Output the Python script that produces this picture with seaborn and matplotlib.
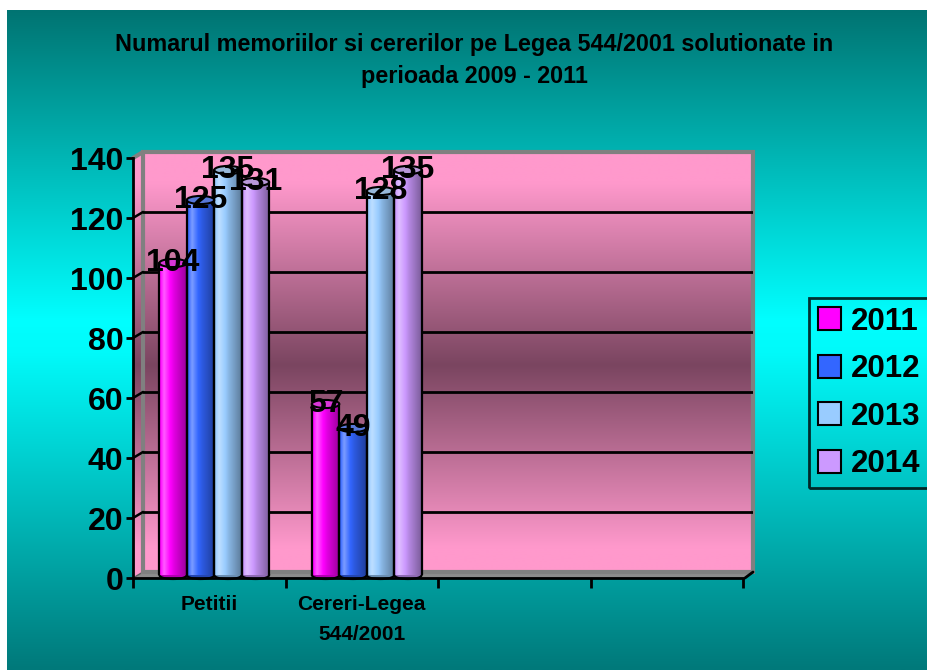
import numpy as np
import pandas as pd
import matplotlib
matplotlib.use("Agg")
import matplotlib.pyplot as plt
import seaborn as sns
from matplotlib.patches import Polygon, Ellipse, Rectangle, Patch
from matplotlib.colors import LinearSegmentedColormap

# ---- data ----
categories = ["Petitii", "Cereri-Legea\n544/2001"]
years = ["2011", "2012", "2013", "2014"]
vals_2011 = [104, 57]
vals_2012 = [125, 49]
vals_2013 = [135, 128]
vals_2014 = [131, 135]
y_ticks = [0, 20, 40, 60, 80, 100, 120, 140]
title = ("Numarul memoriilor si cererilor pe Legea 544/2001 solutionate in\n"
         "perioada 2009 - 2011")
colors = ["#FF00FF", "#3366FF", "#99CCFF", "#CC99FF"]

df = pd.DataFrame({
    "Categorie": categories * len(years),
    "An": [y for y in years for _ in categories],
    "Valoare": vals_2011 + vals_2012 + vals_2013 + vals_2014,
})

sns.set_theme(style="white")
plt.rcParams["font.family"] = ["Liberation Sans", "DejaVu Sans"]
plt.rcParams["font.weight"] = "bold"
for key in ("text.color", "axes.labelcolor", "xtick.color", "ytick.color",
            "legend.labelcolor"):
    plt.rcParams[key] = "black"

W, H = 927, 670
fig = plt.figure(figsize=(W / 100, H / 100), dpi=100)
fig.patch.set_facecolor("white")


def fbox(l, t, r, b):
    return [l / W, 1 - b / H, (r - l) / W, (b - t) / H]


# ---- page background (pixel coordinates) ----
bg = fig.add_axes([0, 0, 1, 1])
bg.set_xlim(0, W)
bg.set_ylim(H, 0)
bg.axis("off")
teal = LinearSegmentedColormap.from_list(
    "teal", [(0, "#007472"), (0.47, "#00FFFF"), (0.52, "#00FAFA"),
             (1, "#00797A")])
grad = np.linspace(0, 1, 256).reshape(-1, 1)
bg.imshow(grad, cmap=teal, extent=(7, W, H, 10), aspect="auto",
          interpolation="bilinear")

# back wall + side wall with pink gradient
pinkmap = LinearSegmentedColormap.from_list(
    "wall", [(0, "#FF99CC"), (0.07, "#FF99CC"), (0.5, "#7A4560"),
             (0.93, "#FF99CC"), (1, "#FF99CC")])
wall_poly = Polygon([(133, 578), (133, 158), (143, 152), (753, 152),
                     (753, 572), (143, 572)], closed=True,
                    facecolor="none", edgecolor="none")
bg.add_patch(wall_poly)
im = bg.imshow(grad, cmap=pinkmap, extent=(133, 753, 578, 152),
               aspect="auto", interpolation="bilinear")
im.set_clip_path(wall_poly)

# floor
bg.add_patch(Polygon([(133, 578), (143, 572), (753, 572), (745, 578)],
                     closed=True, facecolor="#8C8C8C", edgecolor="#606060",
                     lw=1))
# wall frame
bg.add_patch(Rectangle((143, 152), 610, 420, fill=False,
                       edgecolor="#808080", lw=3))
bg.plot([133, 143], [158, 152], color="#808080", lw=3)
bg.plot([745, 753], [578, 572], color="black", lw=2)
# side wall gridlines
for v in y_ticks[1:-1]:
    bg.plot([133, 143], [578 - 3 * v, 572 - 3 * v], color="black", lw=1.8)

# ---- back wall gridlines ----
wall = fig.add_axes(fbox(143, 152, 753, 572))
wall.set_facecolor("none")
wall.set_xlim(-0.5, 3.5)
wall.set_ylim(0, 140)
wall.set_yticks(y_ticks[1:-1])
wall.set_xticks([])
wall.tick_params(left=False, labelleft=False)
wall.grid(axis="y", color="black", lw=2)
for s in wall.spines.values():
    s.set_visible(False)

# ---- bars ----
bx = fig.add_axes(fbox(138, 155, 748, 575))
bx.set_facecolor("none")
sns.barplot(data=df, x="Categorie", y="Valoare", hue="An", order=categories,
            hue_order=years, palette=colors, width=0.72, saturation=1,
            edgecolor="none", legend=False, ax=bx)
bx.set_xlim(-0.5, 3.5)
bx.set_ylim(0, 140)

eh = 2.7  # ellipse height in data units
t = np.linspace(0, 1, 80)
s = np.interp(t, [0, 0.18, 0.55, 1], [0.95, 1.18, 0.88, 0.6])
for p in list(bx.patches):
    x0, w, h = p.get_x(), p.get_width(), p.get_height()
    c = np.array(p.get_facecolor()[:3])
    p.set_facecolor("none")
    rgb = np.where(s[:, None] > 1,
                   c + (1 - c) * (s[:, None] - 1) * 2.0,
                   c * s[:, None])
    rgb = np.clip(rgb, 0, 1)[None, :, :]
    cx = x0 + w / 2
    bx.add_patch(Ellipse((cx, 0), w, eh, facecolor=c * 0.7,
                         edgecolor="black", lw=1.5, zorder=1.5,
                         clip_on=False))
    bx.imshow(rgb, extent=(x0, x0 + w, 0, h), aspect="auto", zorder=2,
              interpolation="bilinear")
    bx.plot([x0, x0], [0, h], color="black", lw=1.6, zorder=3)
    bx.plot([x0 + w, x0 + w], [0, h], color="black", lw=1.6, zorder=3)
    top = np.clip(c + (1 - c) * 0.25, 0, 1) * 0.85
    bx.add_patch(Ellipse((cx, h), w, eh, facecolor=top, edgecolor="black",
                         lw=1.5, zorder=4, clip_on=False))
    bx.text(cx, h, f"{h:.0f}", ha="center", va="center", fontsize=23,
            fontweight="bold", color="black", zorder=6, clip_on=False)

bx.set_xlim(-0.5, 3.5)
bx.set_ylim(0, 140)
bx.axis("off")

# ---- front axes with ticks and labels ----
fx = fig.add_axes(fbox(133, 158, 743, 578))
fx.set_facecolor("none")
fx.set_xlim(-0.5, 3.5)
fx.set_ylim(0, 140)
for side in ("top", "right"):
    fx.spines[side].set_visible(False)
for side in ("left", "bottom"):
    fx.spines[side].set_color("black")
    fx.spines[side].set_linewidth(2)
fx.set_yticks(y_ticks)
fx.set_yticklabels([str(v) for v in y_ticks], fontsize=23, fontweight="bold")
fx.tick_params(axis="y", direction="out", length=5, width=2, pad=2,
               colors="black", left=True)
fx.set_xticks([-0.5, 0.5, 1.5, 2.5, 3.5])
fx.set_xticklabels([])
fx.tick_params(axis="x", which="major", direction="out", length=7, width=2,
               bottom=True, colors="black")
fx.set_xticks([0, 1], minor=True)
fx.set_xticklabels(categories, minor=True, fontsize=15, fontweight="bold",
                   linespacing=1.75)
fx.tick_params(axis="x", which="minor", length=0, pad=12)
fx.set_xlabel("")
fx.set_ylabel("")

# ---- legend ----
handles = [Patch(facecolor=c, edgecolor="black", lw=1.5) for c in colors]
leg = fig.legend(handles, years, loc="upper left",
                 bbox_to_anchor=(809 / W, 1 - 298 / H), frameon=True,
                 prop={"weight": "bold", "size": 22.5},
                 handlelength=0.75, handleheight=0.75, handletextpad=0.3,
                 labelspacing=0.56, borderpad=0.28, borderaxespad=0,
                 fancybox=False)
leg.get_frame().set_facecolor("none")
leg.get_frame().set_edgecolor("black")
leg.get_frame().set_linewidth(2)
for txt in leg.get_texts():
    txt.set_color("black")

# ---- title ----
fig.text(474 / W, 1 - 60 / H, title, ha="center", va="center",
         fontsize=16.8, fontweight="bold", linespacing=1.5, color="black")

fig.savefig("out.png", dpi=100)
